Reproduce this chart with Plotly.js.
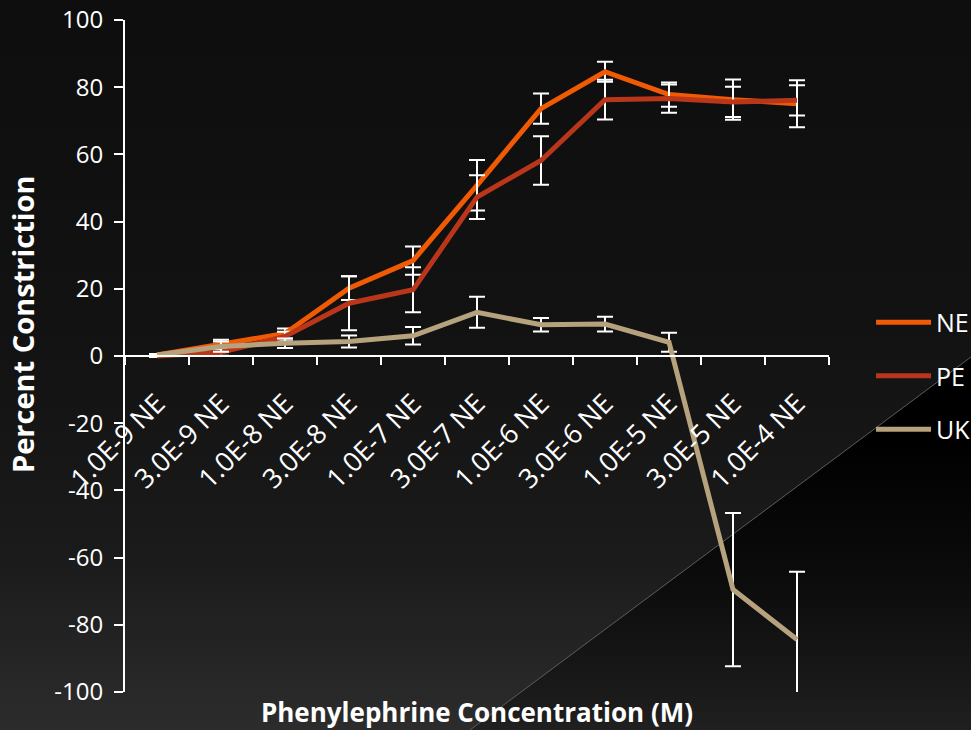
<!DOCTYPE html>
<html>
<head>
<meta charset="utf-8">
<script src="https://cdn.plot.ly/plotly-3.0.1.min.js"></script>
<style>
  html, body { margin: 0; padding: 0; background: #111; }
  #stage {
    position: relative; width: 971px; height: 730px; overflow: hidden;
    background: linear-gradient(to bottom, #0e0e0e 0%, #121212 45%, #1a1a1a 75%, #2c2c2c 100%);
  }
  #shade {
    position: absolute; left: 0; top: 0; width: 971px; height: 730px;
    background: linear-gradient(to bottom, #000 0%, #000 60%, #0c0c0c 80%, #1a1a1a 95%, #202020 100%);
    clip-path: polygon(470px 730px, 971px 357px, 971px 730px);
  }
  #edge { position: absolute; left: 0; top: 0; }
  #chart { position: absolute; left: 0; top: 0; width: 971px; height: 730px; }
</style>
</head>
<body>
<div id="stage">
  <div id="shade"></div>
  <svg id="edge" width="971" height="730"><line x1="470" y1="730" x2="971" y2="357" stroke="#5c5c5c" stroke-width="1"/></svg>
  <div id="chart"></div>
</div>
<script>
// Phenylephrine dose-response: percent constriction per concentration
const concentrations = ["1.0E-9 NE", "3.0E-9 NE", "1.0E-8 NE", "3.0E-8 NE", "1.0E-7 NE", "3.0E-7 NE",
                        "1.0E-6 NE", "3.0E-6 NE", "1.0E-5 NE", "3.0E-5 NE", "1.0E-4 NE"];

const neValues = [0.3, 3.6, 6.7, 20.2, 28.4, 50.8, 73.6, 84.6, 77.8, 76.3, 75.1];
const neErrors = [0.3, 1.2, 1.5, 3.5, 4.2, 7.5, 4.5, 3.0, 3.6, 6.0, 7.0];

const peValues = [0.0, 1.1, 5.8, 15.7, 19.7, 47.3, 58.2, 76.3, 76.6, 75.6, 76.1];
const peErrors = [0.3, 1.0, 1.4, 8.0, 6.7, 6.5, 7.2, 5.9, 4.2, 4.5, 4.5];

const ukValues = [0.3, 2.8, 3.8, 4.3, 6.0, 13.0, 9.3, 9.5, 4.1, -69.5, -84.4];
const ukErrors = [0.3, 1.5, 1.4, 1.8, 2.6, 4.6, 2.0, 2.2, 2.8, 22.8, 20.2];

// y-axis ticks, written with a plain hyphen for negatives
const yTickValues = [-100, -80, -60, -40, -20, 0, 20, 40, 60, 80, 100];
const yTickLabels = ["-100", "-80", "-60", "-40", "-20", "0", "20", "40", "60", "80", "100"];

const seriesNames = ["NE", "PE", "UK"];
const seriesColors = ["#f05a04", "#b9361a", "#b6a27c"];

const xTitle = "Phenylephrine Concentration (M)";
const yTitle = "Percent Constriction";

const fontFamily = "'Open Sans', 'DejaVu Sans', sans-serif";

function series(i, values, errors) {
  return {
    type: "scatter",
    mode: "lines",
    name: seriesNames[i],
    legendgroup: seriesNames[i],
    x: concentrations,
    y: values,
    line: { color: seriesColors[i], width: 5 },
    error_y: { type: "data", array: errors, visible: true, color: "#ffffff", thickness: 2, width: 8 },
    hoverinfo: "x+y+name"
  };
}

const traces = [
  series(0, neValues, neErrors),
  series(1, peValues, peErrors),
  series(2, ukValues, ukErrors)
];

const layout = {
  width: 971,
  height: 730,
  margin: { l: 125, r: 142, t: 20, b: 38, autoexpand: false },
  paper_bgcolor: "rgba(0,0,0,0)",
  plot_bgcolor: "rgba(0,0,0,0)",
  font: { family: fontFamily, color: "#ffffff", size: 24 },
  showlegend: true,
  legend: {
    x: 1.0597, xanchor: "left",
    y: 0.584, yanchor: "top",
    bgcolor: "rgba(0,0,0,0)",
    font: { family: fontFamily, size: 25, color: "#ffffff" },
    tracegroupgap: 18,
    itemwidth: 55
  },
  xaxis: {
    type: "category",
    range: [-0.5, 10.5],
    anchor: "free",
    position: 0.5,
    showline: true,
    linecolor: "#ffffff",
    linewidth: 2,
    showgrid: false,
    zeroline: false,
    ticks: "outside",
    tickson: "boundaries",
    ticklen: 8,
    tickwidth: 2,
    tickcolor: "#ffffff",
    tickangle: -45,
    ticklabelstandoff: 20,
    tickfont: { family: fontFamily, size: 27, color: "#ffffff" },
    title: {
      text: xTitle,
      font: { family: fontFamily, size: 26, color: "#ffffff", weight: "bold" },
      standoff: 215
    },
    automargin: false
  },
  yaxis: {
    range: [-100, 100],
    tickmode: "array",
    tickvals: yTickValues,
    ticktext: yTickLabels,
    showline: true,
    linecolor: "#ffffff",
    linewidth: 2,
    showgrid: false,
    zeroline: false,
    ticks: "outside",
    ticklen: 9,
    tickwidth: 2,
    tickcolor: "#ffffff",
    ticklabelstandoff: 6,
    tickfont: { family: fontFamily, size: 24, color: "#ffffff" },
    automargin: false
  },
  // vertical axis caption, set a little above the axis midpoint
  annotations: [{
    text: yTitle,
    xref: "paper", yref: "paper",
    x: -0.1463, y: 0.5476,
    xanchor: "center", yanchor: "middle",
    textangle: -90,
    showarrow: false,
    font: { family: fontFamily, size: 29, color: "#ffffff", weight: "bold" }
  }]
};

Plotly.newPlot("chart", traces, layout, { displayModeBar: false, staticPlot: true });
</script>
</body>
</html>
